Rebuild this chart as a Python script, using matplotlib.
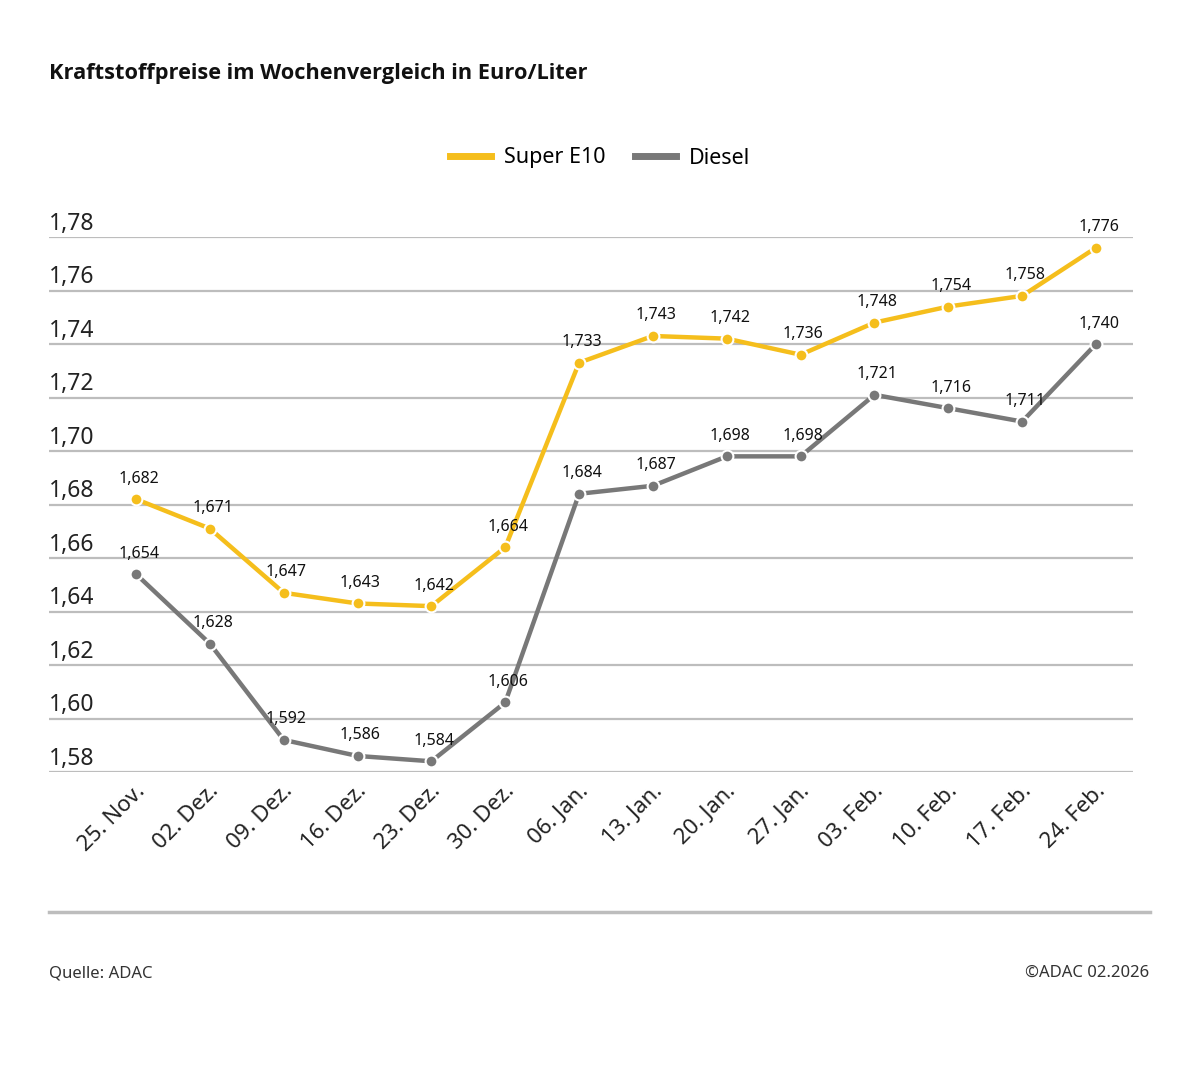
import matplotlib
matplotlib.use("Agg")
import matplotlib.pyplot as plt
from matplotlib.lines import Line2D

categories = ["25. Nov.", "02. Dez.", "09. Dez.", "16. Dez.", "23. Dez.", "30. Dez.", "06. Jan.",
              "13. Jan.", "20. Jan.", "27. Jan.", "03. Feb.", "10. Feb.", "17. Feb.", "24. Feb."]
super_e10 = [1.682, 1.671, 1.647, 1.643, 1.642, 1.664, 1.733, 1.743, 1.742, 1.736, 1.748, 1.754, 1.758, 1.776]
diesel = [1.654, 1.628, 1.592, 1.586, 1.584, 1.606, 1.684, 1.687, 1.698, 1.698, 1.721, 1.716, 1.711, 1.740]
yticks = [1.58, 1.60, 1.62, 1.64, 1.66, 1.68, 1.70, 1.72, 1.74, 1.76, 1.78]

YELLOW = "#F5BE1C"
GRAY = "#787878"
GRID = "#BDBDBD"
FONT = "Noto Sans"
plt.rcParams["font.family"] = [FONT, "DejaVu Sans"]

fig = plt.figure(figsize=(12, 10.85), dpi=100)
ax = fig.add_axes([49/1200, 1-772/1085, (1133-49)/1200, (772-237)/1085])
x = list(range(len(categories)))
ax.set_xlim(-(136-49)/73.85, 13 + (1133-1096)/73.85)
ax.set_ylim(1.58, 1.78)

for t in yticks:
    ax.axhline(t, color=GRID, lw=1.6, zorder=1)
    ax.annotate(f"{t:.2f}".replace(".", ","), xy=(0, t), xycoords=ax.get_yaxis_transform(),
                xytext=(0, 1), textcoords="offset points", ha="left", va="bottom",
                fontsize=16.5, color="#222222")

for vals, col in [(super_e10, YELLOW), (diesel, GRAY)]:
    ax.plot(x, vals, color=col, lw=3.2, marker="o", ms=8.5, mfc=col, mec="white", mew=1.5,
            zorder=3, clip_on=False)
    for xi, v in zip(x, vals):
        ax.annotate(f"{v:.3f}".replace(".", ","), xy=(xi, v), xytext=(2, 9),
                    textcoords="offset points", ha="center", va="bottom",
                    fontsize=11.5, color="#111111", zorder=4)

ax.set_xticks(x)
ax.set_xticklabels([])
for xi, c in zip(x, categories):
    ax.annotate(c, xy=(xi, 1.58), xytext=(-1, -6), textcoords="offset points",
                rotation=45, ha="right", va="top", rotation_mode="anchor",
                fontsize=16, color="#222222")
ax.tick_params(length=0)
for s in ax.spines.values():
    s.set_visible(False)
ax.set_yticks([])

fig.text(49/1200, 1-73/1085, "Kraftstoffpreise im Wochenvergleich in Euro/Liter",
         fontsize=15.7, fontweight="bold", family=["Open Sans", "DejaVu Sans"],
         ha="left", va="center", color="#111111")

handles = [Line2D([], [], color=YELLOW, lw=5), Line2D([], [], color=GRAY, lw=5)]
fig.legend(handles, ["Super E10", "Diesel"], loc="center", bbox_to_anchor=(600/1200, 1-158/1085),
           ncol=2, frameon=False, fontsize=15.5, handlelength=1.9, handletextpad=0.6,
           columnspacing=1.4)

fig.add_artist(Line2D([49/1200, 1150/1200], [1-912/1085]*2, color=GRID, lw=2.5,
                      transform=fig.transFigure))
fig.text(49/1200, 1-973/1085, "Quelle: ADAC", fontsize=12, ha="left", va="center",
         color="#333333")
fig.text(1149/1200, 1-973/1085, "©ADAC 02.2026", fontsize=12, ha="right", va="center",
         color="#333333")

fig.savefig("out.png", dpi=100, facecolor="white")
